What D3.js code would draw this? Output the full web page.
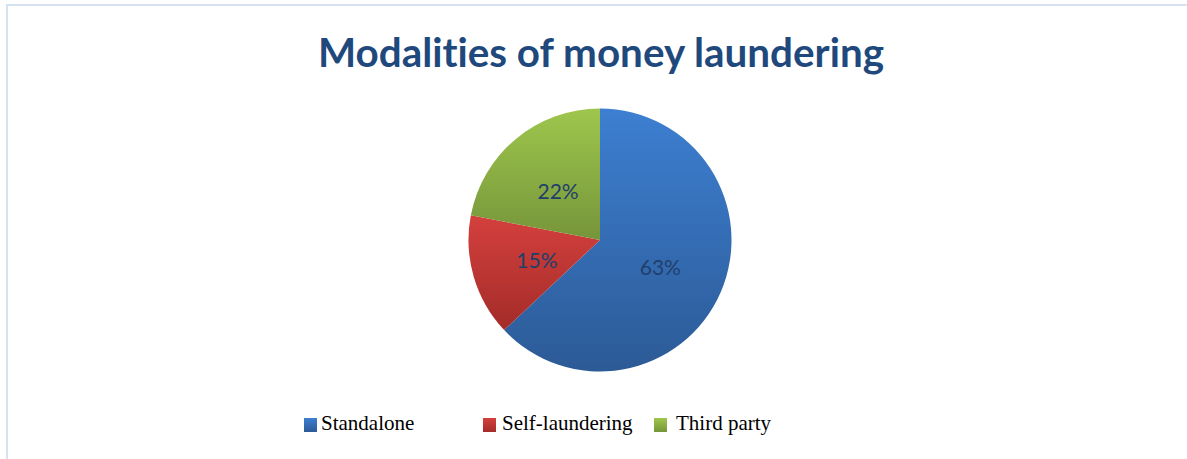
<!DOCTYPE html>
<html><head><meta charset="utf-8">
<script src="https://cdn.jsdelivr.net/npm/d3@7"></script>
<style>html,body{margin:0;padding:0;background:#fff;}svg{display:block;}text{font-variant-ligatures:none;font-feature-settings:"liga" 0;}</style>
</head><body>
<script>
const categories = ["Standalone", "Self-laundering", "Third party"];
const values = [63, 15, 22];
const labels = ["63%", "15%", "22%"];
const colorsTop = ["#3d7fd1", "#d4403d", "#9ec64d"];
const colorsBottom = ["#2c5a96", "#a32c29", "#76953a"];
const title = "Modalities of money laundering";

const W = 1187, H = 459;
const svg = d3.select("body").append("svg").attr("width", W).attr("height", H);
const defs = svg.append("defs");
categories.forEach((c, i) => {
  const g = defs.append("linearGradient").attr("id", "g" + i)
    .attr("x1", 0).attr("y1", 0).attr("x2", 0).attr("y2", 1);
  g.append("stop").attr("offset", 0).attr("stop-color", colorsTop[i]);
  g.append("stop").attr("offset", 1).attr("stop-color", colorsBottom[i]);
});

// border
svg.append("line").attr("x1", 6).attr("x2", W).attr("y1", 5).attr("y2", 5)
  .attr("stroke", "#d5e2f1").attr("stroke-width", 2);
svg.append("line").attr("x1", 7).attr("x2", 7).attr("y1", 4).attr("y2", H)
  .attr("stroke", "#d5e2f1").attr("stroke-width", 2);

svg.append("text").attr("x", 601).attr("y", 67).attr("text-anchor", "middle")
  .attr("font-family", "Lato").attr("font-weight", "bold").attr("font-size", 40)
  .attr("textLength", 566).attr("lengthAdjust", "spacingAndGlyphs")
  .attr("fill", "#1f497d").text(title);

const cx = 600, cy = 240, r = 131.5;
const pie = d3.pie().sort(null).value(d => d)(values);
const arc = d3.arc().innerRadius(0).outerRadius(r);
const g = svg.append("g").attr("transform", `translate(${cx},${cy})`);
g.selectAll("path").data(pie).join("path")
  .attr("d", arc).attr("fill", (d, i) => `url(#g${i})`);
g.selectAll("text").data(pie).join("text")
  .attr("transform", d => { const c = arc.centroid(d); return `translate(${c[0]},${c[1] + 2})`; })
  .attr("text-anchor", "middle").attr("dy", "0.35em")
  .attr("font-family", "Lato").attr("font-size", 21).attr("fill", "#213f6b")
  .text((d, i) => labels[i]);

const legendX = [304, 483, 654];
const legendTextX = [321, 502, 676];
const lg = svg.append("g");
categories.forEach((c, i) => {
  lg.append("rect").attr("x", legendX[i]).attr("y", 418).attr("width", 13).attr("height", 14)
    .attr("fill", `url(#g${i})`);
  lg.append("text").attr("x", legendTextX[i]).attr("y", 430)
    .attr("font-family", "Liberation Serif").attr("font-size", 21).attr("fill", "#000").text(c);
});
</script>
</body></html>
